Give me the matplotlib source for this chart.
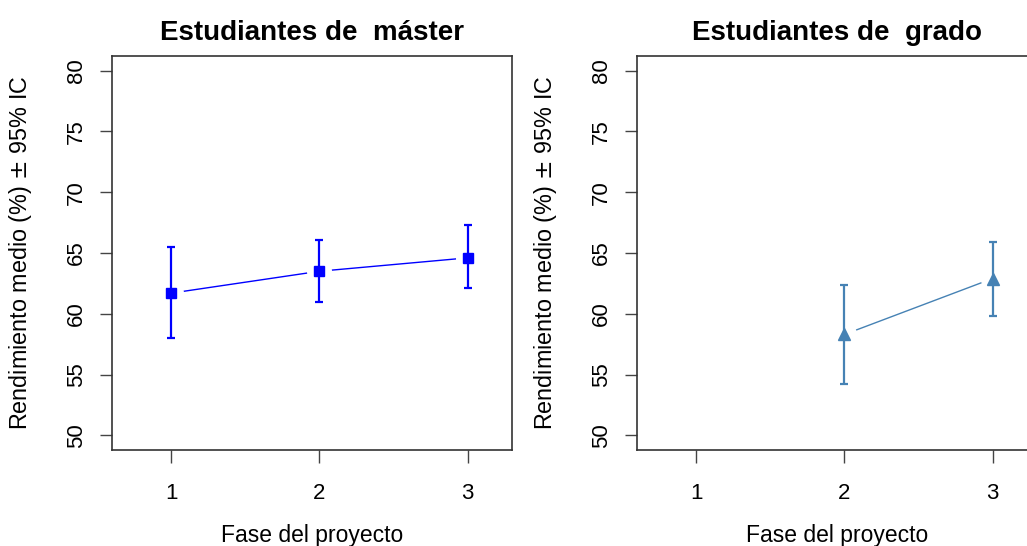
import matplotlib
matplotlib.use("Agg")
import matplotlib.pyplot as plt

plt.rcParams['font.family'] = ['Liberation Sans', 'DejaVu Sans']

# Estudiantes de master
fase_master = [1, 2, 3]
media_master = [61.7, 63.5, 64.6]
ic_bajo_master = [58.0, 61.0, 62.1]
ic_alto_master = [65.5, 66.1, 67.3]

# Estudiantes de grado
fase_grado = [2, 3]
media_grado = [58.3, 62.9]
ic_bajo_grado = [54.2, 59.8]
ic_alto_grado = [62.4, 65.9]

W, H = 1027, 546
fig = plt.figure(figsize=(W / 100, H / 100), dpi=100)


def panel(left_px, title, x, y, lo, hi, color, marker, msize):
    ax = fig.add_axes([left_px / W, (H - 450) / H, 400 / W, 394 / H])
    err = [[m - l for m, l in zip(y, lo)], [h - m for m, h in zip(y, hi)]]
    ax.plot(x, y, color=color, lw=1, zorder=1)
    # white halo so the line stops short of the points, like R type="b"
    ax.plot(x, y, ls='none', marker='o', ms=17, mfc='white', mec='white', zorder=2)
    ax.errorbar(x, y, yerr=err, fmt='none', ecolor=color, elinewidth=1.6,
                capsize=3, capthick=1.6, zorder=3)
    ax.plot(x, y, ls='none', marker=marker, ms=msize, color=color, zorder=4)
    ax.set_xlim(0.6, 3.3)
    ax.set_ylim(48.8, 81.2)
    ax.set_xticks([1, 2, 3])
    ax.set_yticks([50, 55, 60, 65, 70, 75, 80])
    ax.set_yticklabels(['50', '55', '60', '65', '70', '75', '80'],
                       rotation=90, va='center')
    ax.tick_params(length=9, width=1, color='#444444', labelsize=16)
    ax.tick_params(axis='x', pad=15)
    ax.tick_params(axis='y', pad=9)
    for s in ax.spines.values():
        s.set_linewidth(1.2)
        s.set_color('#333333')
    ax.set_title(title, fontsize=20, fontweight='bold', pad=11.5)
    ax.set_xlabel('Fase del proyecto', fontsize=16.5)
    ax.set_ylabel('Rendimiento medio (%) $\\pm$ 95% IC', fontsize=16.8)
    ax.xaxis.set_label_coords(0.5, -0.216)
    ax.xaxis.label.set_va('center')
    ax.yaxis.set_label_coords(-0.228, 0.5)
    ax.yaxis.label.set_va('center')
    return ax


panel(112, 'Estudiantes de  máster', fase_master, media_master,
      ic_bajo_master, ic_alto_master, '#0000ff', 's', 7.5)
panel(637, 'Estudiantes de  grado', fase_grado, media_grado,
      ic_bajo_grado, ic_alto_grado, '#4682b4', '^', 9)

fig.savefig('out.png', dpi=100)
